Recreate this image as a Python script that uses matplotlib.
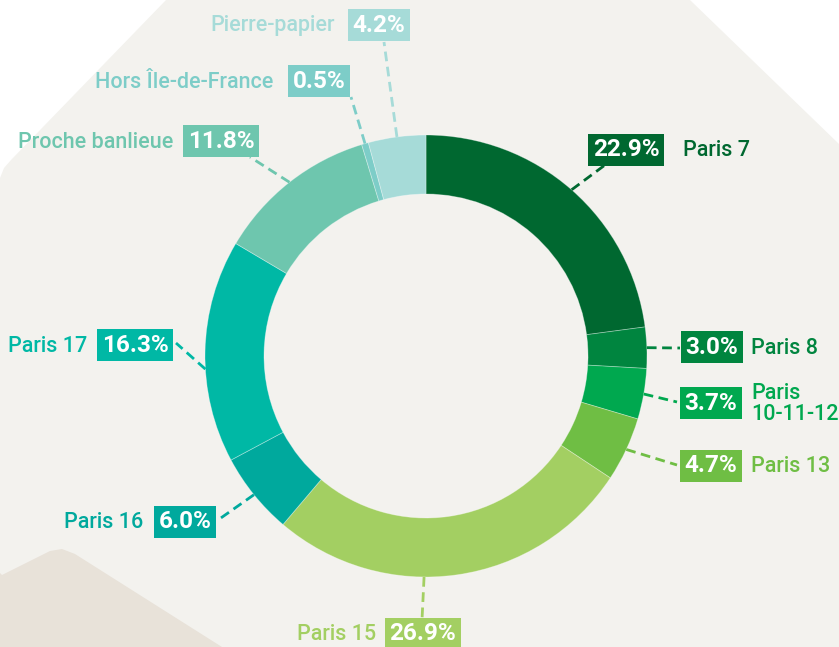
import numpy as np
import matplotlib.pyplot as plt
from matplotlib.patches import Polygon

plt.rcParams['font.family'] = ['Roboto', 'DejaVu Sans']

# data: shares, clockwise from 12 o'clock
names = ["Paris 7", "Paris 8", "Paris\n10-11-12", "Paris 13", "Paris 15", "Paris 16",
         "Paris 17", "Proche banlieue", "Hors Île-de-France", "Pierre-papier"]
shares = [22.9, 3.0, 3.7, 4.7, 26.9, 6.0, 16.3, 11.8, 0.5, 4.2]
colors = ["#006830", "#00853f", "#00a84f", "#6fbe44", "#a3cf62", "#00a99d",
          "#00b8a5", "#6ec6ae", "#7dcdc8", "#a6dbd8"]

W, H = 839, 647
# label layout in pixels (y from top): box centre, name anchor x, side of name, leader end
box_xy = [(626, 150), (712, 347), (711, 403), (711, 466), (423, 634), (185, 522),
          (135, 345), (221, 141), (319, 81), (379, 25)]
name_x = [683, 751, 751, 751, 376, 143, 87, 173, 273, 335]
name_side = ["r", "r", "r", "r", "l", "l", "l", "l", "l", "l"]
leader_end = [(605, 165), (680, 348), (677, 402), (677, 465), (422, 620), (218, 520),
              (176, 343), (250, 157), (351, 97), (384, 42)]
anchor_override = {4: 180.5, 6: 266.6}

cx, cy, R = 426, 356, 221


def fy(y):
    return H - y


fig = plt.figure(figsize=(W / 100, H / 100), dpi=100)
fig.patch.set_facecolor("white")
ax = fig.add_axes([0, 0, 1, 1])

# background shapes
bg = [(166, 0), (690, 0), (839, 144), (839, 647), (0, 647), (0, 178), (4, 168), (11, 160)]
ax.add_patch(Polygon([(x, fy(y)) for x, y in bg], closed=True, fc="#f3f2ee", ec="none", zorder=0))
beige = [(2, 575), (0, 573), (0, 647), (222, 647), (75, 554), (62, 549), (50, 551)]
ax.add_patch(Polygon([(x, fy(y)) for x, y in beige], closed=True, fc="#e8e2d9", ec="none", zorder=1))

wedges, _ = ax.pie(shares, colors=colors, startangle=90, counterclock=False,
                   center=(cx, fy(cy)), radius=R, frame=True,
                   wedgeprops=dict(width=59, edgecolor=(1, 1, 1, 0.35), linewidth=0.6))
ax.set_xlim(0, W)
ax.set_ylim(0, H)
ax.set_aspect("equal")
ax.axis("off")

cum = np.cumsum([0] + shares)
for i, name in enumerate(names):
    col = colors[i]
    mid = (cum[i] + shares[i] / 2) / 100 * 360
    ang = anchor_override.get(i, mid)
    ax_x = cx + R * np.sin(np.radians(ang))
    ax_y = cy - R * np.cos(np.radians(ang))
    ex, ey = leader_end[i]
    ax.plot([ax_x, ex], [fy(ax_y), fy(ey)], color=col, lw=2, ls=(0, (3.5, 2)),
            solid_capstyle="butt", zorder=3)
    bx, by = box_xy[i]
    ax.text(bx, fy(by), f"{shares[i]:.1f}%", color="white", fontsize=17.5, fontweight="bold",
            ha="center", va="center", zorder=5,
            bbox=dict(boxstyle="square,pad=0.2", fc=col, ec="none"))
    ha = "left" if name_side[i] == "r" else "right"
    ax.text(name_x[i], fy(by + 1), name, color=col, fontsize=15.5, fontweight="medium",
            ha=ha, va="center", linespacing=1.0, zorder=5)

fig.savefig("out.png", dpi=100, facecolor=fig.get_facecolor())
